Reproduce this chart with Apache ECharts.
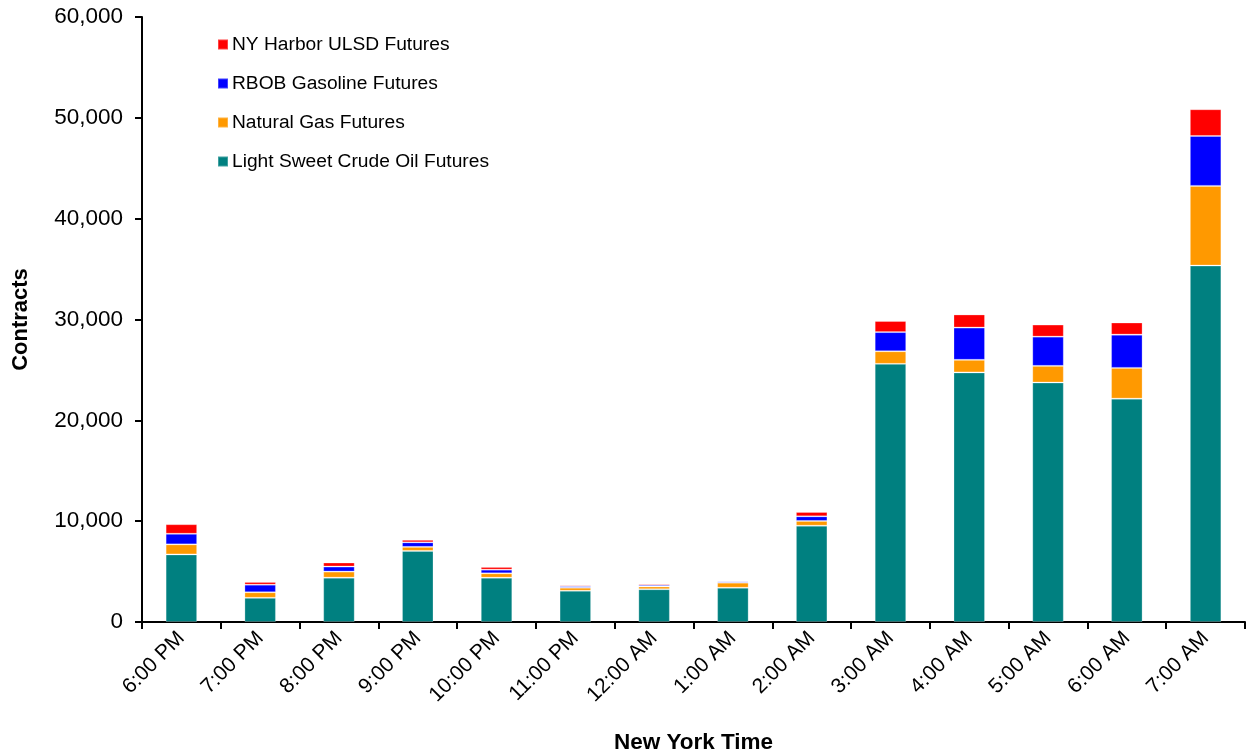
<!DOCTYPE html>
<html><head><meta charset="utf-8">
<script src="https://cdn.jsdelivr.net/npm/echarts@6/dist/echarts.min.js"></script>
<style>html,body{margin:0;padding:0;background:#fff}#c{width:1251px;height:753px}</style>
</head><body><div id="c"></div>
<script>
const categories = ['6:00 PM','7:00 PM','8:00 PM','9:00 PM','10:00 PM','11:00 PM','12:00 AM','1:00 AM','2:00 AM','3:00 AM','4:00 AM','5:00 AM','6:00 AM','7:00 AM'];
const crude = [6700,2400,4400,7050,4400,3100,3250,3400,9550,25600,24750,23750,22150,35350];
const natgas = [1000,550,600,400,430,300,270,500,470,1250,1250,1650,3050,7900];
const rbob = [1050,750,500,450,360,150,150,130,460,1900,3200,2900,3300,4950];
const ulsd = [950,270,400,250,270,120,130,100,430,1100,1300,1200,1200,2650];
const yTicks = [0,10000,20000,30000,40000,50000,60000];

const font = 'Liberation Sans, Arial, sans-serif';
const chart = echarts.init(document.getElementById('c'));
function s(name, data, color){
  return {name, type:'bar', stack:'t', data, barWidth:'40%',
    itemStyle:{color, borderColor:'rgba(255,255,255,0.25)', borderWidth:1},
    emphasis:{disabled:true}};
}
chart.setOption({
  animation:false,
  grid:{left:142,right:6,top:17,bottom:131,containLabel:false,outerBoundsMode:'none'},
  legend:{orient:'vertical',left:212,top:30,itemGap:20,itemWidth:10,itemHeight:10,
    icon:'rect',data:['NY Harbor ULSD Futures','RBOB Gasoline Futures','Natural Gas Futures','Light Sweet Crude Oil Futures'],
    textStyle:{fontFamily:font,fontSize:19.2,color:'#000',padding:[0,0,0,-1]}},
  xAxis:{type:'category',data:categories,
    name:'New York Time',nameLocation:'middle',nameGap:109,
    nameTextStyle:{fontFamily:font,fontSize:22.5,fontWeight:'bold',color:'#000'},
    axisLine:{lineStyle:{color:'#000',width:2}},
    axisTick:{show:true,alignWithLabel:false,length:7,lineStyle:{color:'#000',width:2}},
    axisLabel:{rotate:45,fontFamily:font,fontSize:21,color:'#000',margin:13}},
  yAxis:{type:'value',min:0,max:60000,interval:10000,
    name:'Contracts',nameLocation:'middle',nameGap:110,
    nameTextStyle:{fontFamily:font,fontSize:22,fontWeight:'bold',color:'#000'},
    axisLine:{show:true,lineStyle:{color:'#000',width:2}},
    axisTick:{show:true,length:7,lineStyle:{color:'#000',width:2}},
    splitLine:{show:false},
    axisLabel:{fontFamily:font,fontSize:22.5,color:'#000',margin:19,
      formatter:v=>yTicks.includes(v)?v.toLocaleString('en-US'):''}},
  series:[
    s('Light Sweet Crude Oil Futures',crude,'#008080'),
    s('Natural Gas Futures',natgas,'#FF9900'),
    s('RBOB Gasoline Futures',rbob,'#0000FF'),
    s('NY Harbor ULSD Futures',ulsd,'#FF0000')
  ]
});
</script></body></html>
